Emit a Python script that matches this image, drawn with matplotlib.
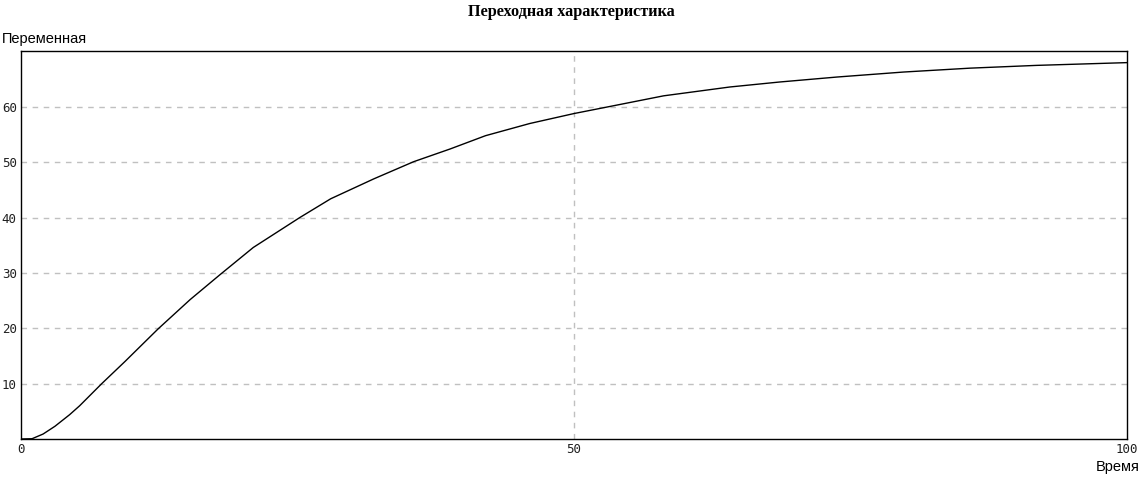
import matplotlib
matplotlib.use("Agg")
import matplotlib.pyplot as plt

# Data
time = [0, 1.0, 2.0, 3.07, 4.4, 5.3, 7.3, 9.4, 12.4, 15.3, 18.0, 21.0, 25.2,
        28.0, 31.9, 35.5, 38.8, 42.0, 46.0, 50.0, 53.3, 58.1, 64.1, 68.6,
        73.8, 79.8, 85.8, 91.8, 100.0]
value = [0, 0.05, 0.9, 2.3, 4.4, 6.0, 10.0, 14.0, 19.9, 25.2, 29.7, 34.6, 40.0,
         43.4, 47.0, 50.1, 52.4, 54.8, 57.0, 58.8, 60.1, 62.0, 63.6, 64.5,
         65.4, 66.3, 67.0, 67.5, 68.0]
x_ticks = [0, 50, 100]
y_ticks = [10, 20, 30, 40, 50, 60]

title = "Переходная характеристика"
y_label = "Переменная"
x_label = "Время"

fig = plt.figure(figsize=(11.43, 4.79), dpi=100)
ax = fig.add_axes([21 / 1143, 1 - 439 / 479, (1127 - 21) / 1143, (439 - 51) / 479])

ax.plot(time, value, color="black", linewidth=1.0)
ax.set_xlim(0, 100)
ax.set_ylim(0, 70.1)
ax.set_xticks(x_ticks)
ax.set_yticks(y_ticks)
ax.tick_params(length=0, labelsize=9, pad=3)
for lab in ax.get_xticklabels() + ax.get_yticklabels():
    lab.set_family("DejaVu Sans Mono")
    lab.set_color("#202020")

for yv in y_ticks:
    ax.axhline(yv, color="#c0c0c0", linewidth=1.0, linestyle=(0, (4, 4)), zorder=0)
ax.axvline(50, color="#c0c0c0", linewidth=1.0, linestyle=(0, (4, 4)), zorder=0)

for s in ax.spines.values():
    s.set_linewidth(1.0)
    s.set_color("black")

fig.text(571 / 1143, 1 - 12 / 479, title, ha="center", va="center",
         family="Liberation Serif", fontweight="bold", fontsize=11.7)
fig.text(2 / 1143, 1 - 39 / 479, y_label, ha="left", va="center",
         family="Liberation Sans", fontsize=10.5)
fig.text(1140 / 1143, 1 - 467 / 479, x_label, ha="right", va="center",
         family="Liberation Sans", fontsize=10.5)

fig.savefig("out.png", dpi=100)
